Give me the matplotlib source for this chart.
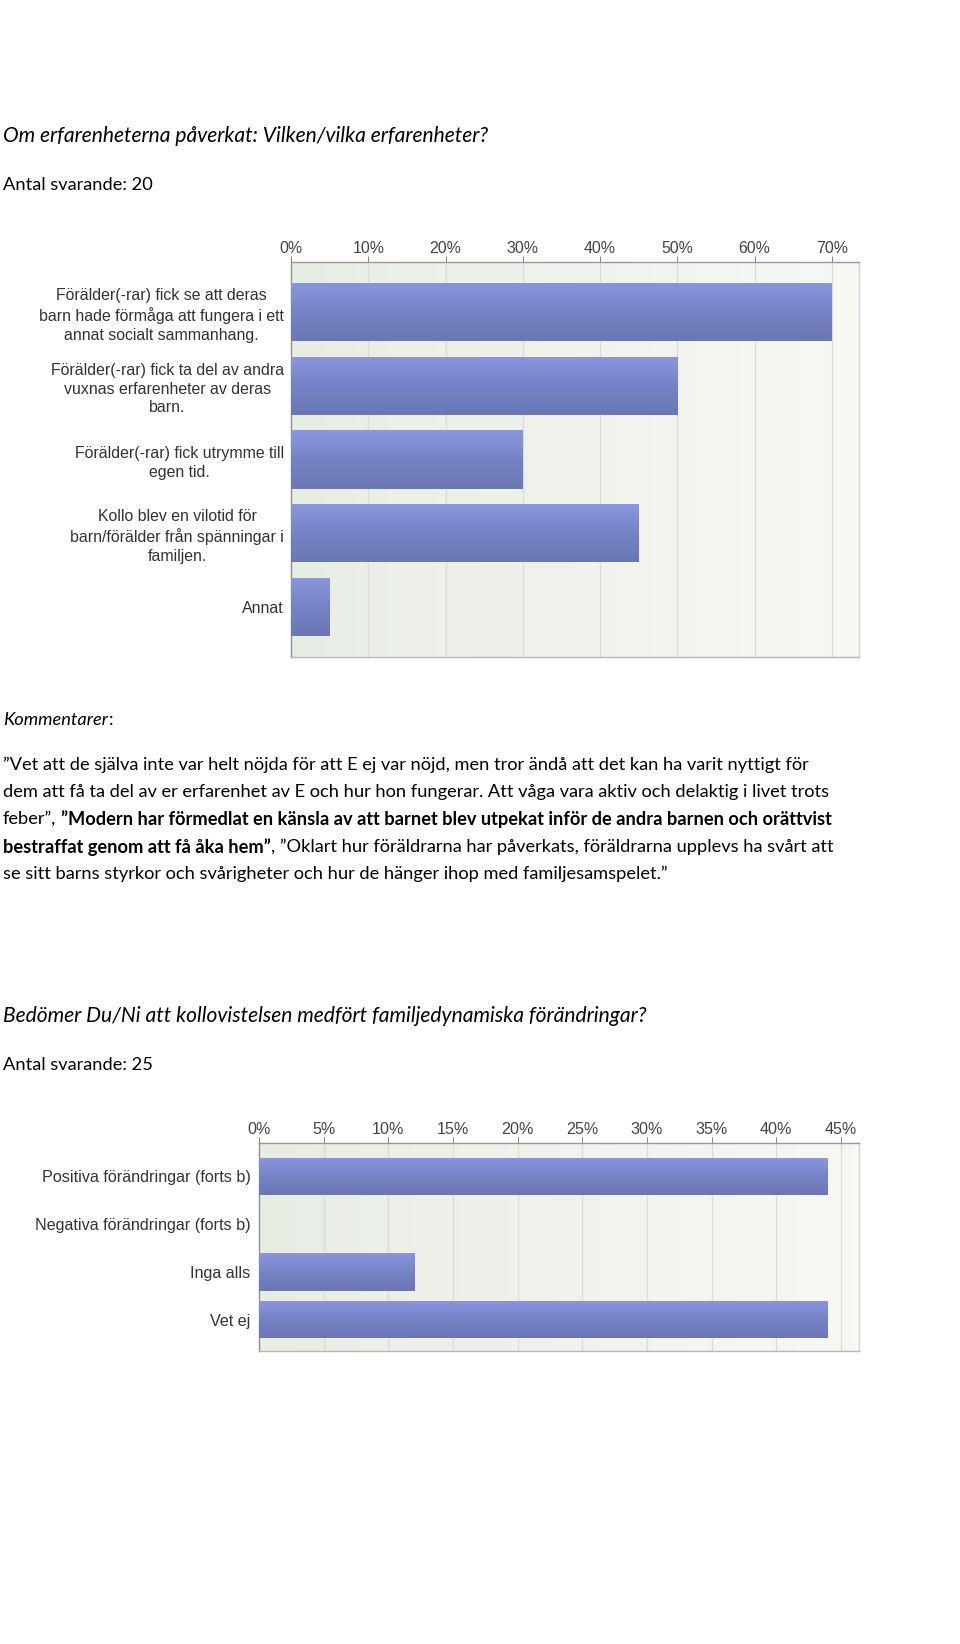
import matplotlib
matplotlib.use("Agg")
import matplotlib.pyplot as plt
import numpy as np
from matplotlib.colors import LinearSegmentedColormap

W, H, DPI = 960, 1644, 100

# ---------------- data ----------------
q1_title = "Om erfarenheterna påverkat: Vilken/vilka erfarenheter?"
q1_count = "Antal svarande: 20"
q1_categories = [
    "Förälder(-rar) fick se att deras\nbarn hade förmåga att fungera i ett\nannat socialt sammanhang.",
    "Förälder(-rar) fick ta del av andra\nvuxnas erfarenheter av deras\nbarn.",
    "Förälder(-rar) fick utrymme till\negen tid.",
    "Kollo blev en vilotid för\nbarn/förälder från spänningar i\nfamiljen.",
    "Annat",
]
q1_values = [70, 50, 30, 45, 5]
q1_ticks = [0, 10, 20, 30, 40, 50, 60, 70]

q2_title = "Bedömer Du/Ni att kollovistelsen medfört familjedynamiska förändringar?"
q2_count = "Antal svarande: 25"
q2_categories = ["Positiva förändringar (forts b)", "Negativa förändringar (forts b)",
                 "Inga alls", "Vet ej"]
q2_values = [44, 0, 12, 44]
q2_ticks = [0, 5, 10, 15, 20, 25, 30, 35, 40, 45]

comment_label = "Kommentarer"
comment_lines = [
    [("”Vet att de själva inte var helt nöjda för att E ej var nöjd, men tror ändå att det kan ha varit nyttigt för", False)],
    [("dem att få ta del av er erfarenhet av E och hur hon fungerar. Att våga vara aktiv och delaktig i livet trots", False)],
    [("feber”,", False), (" ”Modern har förmedlat en känsla av att barnet blev utpekat inför de andra barnen och orättvist", True)],
    [("bestraffat genom att få åka hem”", True), (", ”Oklart hur föräldrarna har påverkats, föräldrarna upplevs ha svårt att", False)],
    [("se sitt barns styrkor och svårigheter och hur de hänger ihop med familjesamspelet.”", False)],
]

# ---------------- figure ----------------
fig = plt.figure(figsize=(W / DPI, H / DPI), dpi=DPI)
fig.patch.set_facecolor("white")
renderer = fig.canvas.get_renderer()

BODY = "Lato"
CHART_FONT = "Liberation Sans"


def measure(s, size, **kw):
    t = fig.text(0, 0, s, fontsize=size, **kw)
    w = t.get_window_extent(renderer).width
    t.remove()
    return w


def fit(s, target, **kw):
    return 10 * target / measure(s, 10, **kw)


def ftext(x, y, s, **kw):
    return fig.text(x / W, 1 - y / H, s, va="center", ha="left", **kw)


def space_w(size, **kw):
    return measure("x x", size, **kw) - measure("xx", size, **kw)


# Sizes fitted to reference widths
body_size = fit(comment_lines[0][0][0], 806, family=BODY)
title_size = fit(q2_title, 646, family=BODY, style="italic")

ftext(3, 136, q1_title, family=BODY, style="italic", fontsize=title_size, color="black")
ftext(3, 185, q1_count, family=BODY, fontsize=body_size, color="black")

# Kommentarer:
t = ftext(3, 720, comment_label, family=BODY, style="italic", fontsize=body_size)
wk = t.get_window_extent(renderer).width
ftext(3 + wk + 1, 720, ":", family=BODY, fontsize=body_size)

line_y = [765, 792, 819, 847, 874]
for ly, segs in zip(line_y, comment_lines):
    x = 3.0
    for s, bold in segs:
        kw = dict(family=BODY, weight="bold" if bold else "normal")
        if s.startswith(" "):
            x += space_w(body_size, **kw)
            s = s.lstrip(" ")
        tt = ftext(x, ly, s, color="black", fontsize=body_size, **kw)
        x += tt.get_window_extent(renderer).width

ftext(3, 1016, q2_title, family=BODY, style="italic", fontsize=title_size, color="black")
ftext(3, 1065, q2_count, family=BODY, fontsize=body_size, color="black")

# ---------------- charts ----------------
bar_cmap = LinearSegmentedColormap.from_list("bar", ["#8a97de", "#7583c6", "#6b77b4"])
bg_cmap = LinearSegmentedColormap.from_list("bg", ["#e8ede4", "#f0f3ed", "#f6f8f4"])


def bar_chart(px_rect, cats, vals, ticks, xmax, ylim, label_size, tick_size, pad):
    l, t, r, b = px_rect
    ax = fig.add_axes([l / W, 1 - b / H, (r - l) / W, (b - t) / H])
    y = np.arange(len(cats))
    bars = ax.barh(y, vals, height=0.79, color="#7b87c8", edgecolor="none", zorder=2)
    grad = np.linspace(0, 1, 64).reshape(-1, 1)
    for p in bars.patches:
        x0, y0, w, h = p.get_x(), p.get_y(), p.get_width(), p.get_height()
        if w <= 0:
            continue
        im = ax.imshow(grad, cmap=bar_cmap, extent=(x0, x0 + w, y0 + h, y0),
                       aspect="auto", zorder=3, interpolation="bilinear")
        im.set_clip_path(p)
    bg = np.linspace(0, 1, 128).reshape(1, -1)
    ax.imshow(bg, cmap=bg_cmap, extent=(0, 1, 0, 1), transform=ax.transAxes,
              aspect="auto", zorder=0, interpolation="bilinear")
    ax.set_xlim(0, xmax)
    ax.set_ylim(*ylim)
    ax.set_xticks(ticks)
    ax.set_xticklabels([f"{v}%" for v in ticks])
    ax.xaxis.tick_top()
    ax.set_yticks(y)
    ax.set_yticklabels(cats, multialignment="center", linespacing=1.3)
    ax.tick_params(axis="x", length=4, width=0.8, color="#8a8a8a", pad=0,
                   labelsize=tick_size, labelcolor="#444444")
    ax.tick_params(axis="y", length=0, pad=pad, labelsize=label_size, labelcolor="#333333")
    for lab in ax.get_xticklabels() + ax.get_yticklabels():
        lab.set_family(CHART_FONT)
    ax.set_axisbelow(True)
    ax.xaxis.grid(True, color="#d9ddd5", lw=0.9, zorder=1)
    ax.set_facecolor("#eef1ea")
    ax.spines["left"].set_color("#8f8f8f")
    ax.spines["top"].set_color("#9a9a9a")
    ax.spines["right"].set_color("#cfd2cc")
    ax.spines["bottom"].set_color("#b5b5b5")
    for s in ax.spines.values():
        s.set_linewidth(1.0)
    return ax


lab1 = fit("barn hade förmåga att fungera i ett", 246, family=CHART_FONT)
lab2 = fit("Positiva förändringar (forts b)", 210, family=CHART_FONT)

bar_chart((291, 262, 859, 657), q1_categories, q1_values, q1_ticks, 73.5,
          (4.68, -0.68), lab1, lab1, 5)
bar_chart((259, 1143, 859, 1351), q2_categories, q2_values, q2_ticks, 46.4,
          (3.66, -0.70), lab2, lab2, 6)

fig.savefig("out.png", dpi=DPI, facecolor="white")
